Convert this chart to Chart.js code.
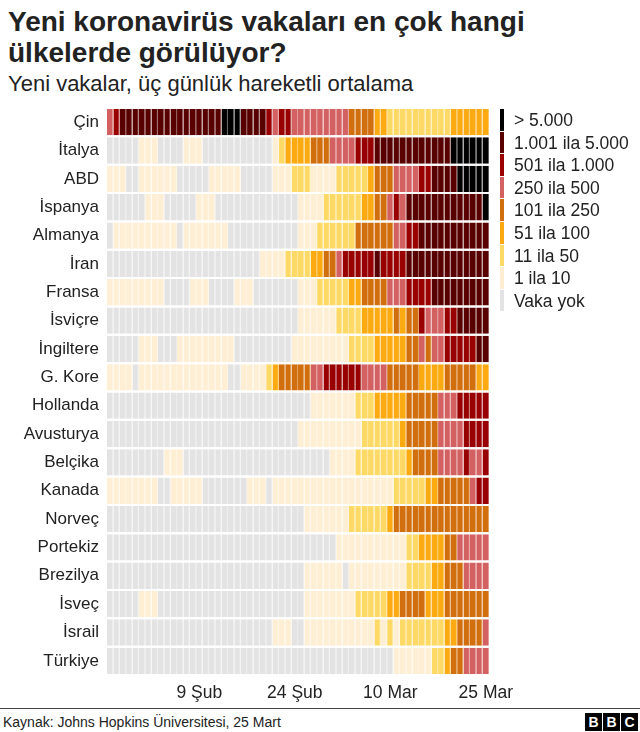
<!DOCTYPE html>
<html lang="tr">
<head>
<meta charset="utf-8">
<script src="https://cdn.jsdelivr.net/npm/chart.js@4.4.1/dist/chart.umd.min.js"></script>
<style>
  html, body { margin: 0; padding: 0; background: #fff; }
  body { width: 640px; height: 732px; position: relative; overflow: hidden;
         font-family: "Liberation Sans", Arial, Helvetica, sans-serif; color: #222; }
  h1 { position: absolute; left: 8px; top: 6px; margin: 0; font-size: 28px; line-height: 31px; font-weight: bold; }
  .sub { position: absolute; left: 8px; top: 71px; font-size: 22px; line-height: 26px; }
  #wrap { position: absolute; left: 0; top: 100px; width: 640px; height: 605px; }
  #legend { position: absolute; left: 500px; top: 109px; }
  #legend .item { position: relative; height: 22.6px; }
  #legend .bar { position: absolute; left: 0; top: 0; width: 4px; height: 21.6px; }
  #legend .txt { position: absolute; left: 14px; top: 0; font-size: 17.5px; line-height: 22px; white-space: nowrap; }
  .rule { position: absolute; left: 0; top: 708px; width: 640px; height: 1px; background: #444; }
  .src { position: absolute; left: 3px; top: 714px; font-size: 14px; line-height: 17px; }
  .bbc { position: absolute; left: 584px; top: 713px; }
  .bbc span { float: left; width: 17px; height: 18px; margin-left: 1px; background: #000; color: #fff;
              font-weight: bold; font-size: 14px; line-height: 18px; text-align: center; }
</style>
</head>
<body>
<h1>Yeni koronavirüs vakaları en çok hangi<br>ülkelerde görülüyor?</h1>
<div class="sub">Yeni vakalar, üç günlük hareketli ortalama</div>
<div id="wrap"><canvas id="heat" width="640" height="605"></canvas></div>
<div id="legend"></div>
<div class="rule"></div>
<div class="src">Kaynak: Johns Hopkins Üniversitesi, 25 Mart</div>
<div class="bbc"><span>B</span><span>B</span><span>C</span></div>

<script>
// rows top to bottom
const countries = ["Çin", "İtalya", "ABD", "İspanya", "Almanya", "İran", "Fransa", "İsviçre", "İngiltere", "G. Kore",
    "Hollanda", "Avusturya", "Belçika", "Kanada", "Norveç", "Portekiz", "Brezilya", "İsveç", "İsrail", "Türkiye"];

// one digit per day, 26 Ocak .. 25 Mart (60 days); digit = colour band 0..8 (spaces only for reading)
const levels = [
    "5 6 7777777777 777777 888 7777 6 5 66 555555555 4444 33 2222222222 333333",
    "00000 111 0000 111 0000000000 0 1 2 3333 444 5555 666 7777777777 77 888888",
    "111 00 111111 00000 11111 00000 111 222 1111 22222 3 444 5555 66 7777 88888",
    "000000 111 00000 111 0000000000 000 1111 222222 33 44 5 6 5 7777777777 77 8",
    "0 1111111111 0 1111111 0000000000 0 111 222222 444444 55 66 7777777777 7",
    "0000000000 0000000000 0000 1111 2222 33 44 5 66666 7 6666 7777777777 777",
    "111111111 0000 111 0000 111 0000000 111 22222 33 4444 555 6666 777777777",
    "0000000000 0000000000 0000000000 111111 2222 33333 4 3 44 6 555 66 77777",
    "00000 111 000 111111111 000000000 111111111 2222 33333 44 5 4 55 66666 77",
    "1111 0 1111111111 1111 00 1111 2 3 44444 55 666666 5555 44444 3333 44444 33",
    "0000000000 0000000000 0000000000 00 1111111 222 33333 44444 555 66666",
    "0000000000 0000000000 0000000000 1111111111 222222 3 44444 5555 6666",
    "000000000 111 0000000000 0000000000 000 1111 22222222 3 4444 5555 6 55 6",
    "11111111 00 11111 0000000 111 0 1111111111 111111111 22222 33 44444 5 66",
    "0000000000 0000000000 0000000000 0 1111111 222222 3 4444444444 44444",
    "0000000000 0000000000 0000000000 000000 1111111111 1 22 3333 44 55555",
    "0000000000 0000000000 0000000000 0 111111 0 111111111 2222 33 444 5555",
    "00000 111 0000000000 0000000000 000 11111111 22222 33 4444 333 4444444",
    "0000000000 0000000000 000000 111 00 11111111111 2 1 2 1 2222222 33 4444 5",
    "0000000000 0000000000 0000000000 0000000000 00000 111111 22 3 44 5555"
];

const bandLabels = ["Vaka yok", "1 ila 10", "11 ila 50", "51 ila 100", "101 ila 250",
    "250 ila 500", "501 ila 1.000", "1.001 ila 5.000", "> 5.000"];
const bandColors = ["#e3e3e3", "#feeed3", "#ffd966", "#fcaa12", "#d16f0e",
    "#d46162", "#990000", "#590000", "#000000"];

const tickDays = [14, 29, 44, 59];
const tickLabels = ["9 Şub", "24 Şub", "10 Mar", "25 Mar"];

const dayCount = 60;

const grid = levels.map(s => s.replace(/ /g, "").split("").map(Number));
grid.forEach((row, i) => {
    if (row.length !== dayCount) throw new Error(countries[i] + " has " + row.length + " days");
});

// lighter version of a colour for the thin lines between days
function tint(hex, t) {
    const n = parseInt(hex.slice(1), 16);
    const r = (n >> 16) & 255, g = (n >> 8) & 255, b = n & 255;
    const mix = c => Math.round(c + (255 - c) * t);
    return "rgb(" + mix(r) + "," + mix(g) + "," + mix(b) + ")";
}

// one stacked dataset per day, each country gets a slice of width 1
const datasets = [];
for (let d = 0; d < dayCount; d++) {
    datasets.push({
        label: "gün " + d,
        data: countries.map(() => 1),
        backgroundColor: grid.map(row => bandColors[row[d]]),
        borderColor: grid.map(row => tint(bandColors[row[d]], 0.35)),
        borderWidth: { top: 0, bottom: 0, left: 0, right: 1 },
        borderSkipped: false,
        barPercentage: 0.93,
        categoryPercentage: 1
    });
}

Chart.defaults.font.family = '"Liberation Sans", Arial, Helvetica, sans-serif';
Chart.defaults.color = "#222";

const ctx = document.getElementById("heat").getContext("2d");
const chart = new Chart(ctx, {
    type: "bar",
    data: { labels: countries, datasets },
    options: {
        indexAxis: "y",
        responsive: false,
        animation: false,
        layout: { padding: { top: 8, right: 151, bottom: 0, left: 0 } },
        plugins: {
            legend: { display: false },
            tooltip: { enabled: false }
        },
        scales: {
            x: {
                type: "linear",
                stacked: true,
                min: 0,
                max: dayCount,
                grid: { display: false },
                border: { display: false },
                afterBuildTicks: axis => {
                    axis.ticks = tickDays.map(d => ({ value: d + 0.5 }));
                },
                afterFit: scale => {
                    scale.height = 30;
                    scale.paddingLeft = 0;
                    scale.paddingRight = 0;
                },
                ticks: {
                    autoSkip: false,
                    maxRotation: 0,
                    padding: 0,
                    font: { size: 17.5 },
                    callback: (value, index) => tickLabels[index]
                }
            },
            y: {
                stacked: true,
                grid: { display: false },
                border: { display: false },
                afterFit: scale => {
                    scale.width = 107;
                    scale.paddingTop = 0;
                    scale.paddingBottom = 0;
                },
                ticks: {
                    padding: 0,
                    font: { size: 17 }
                }
            }
        }
    }
});

// legend, highest band first
const legendBox = document.getElementById("legend");
for (let i = bandLabels.length - 1; i >= 0; i--) {
    const item = document.createElement("div");
    item.className = "item";
    item.innerHTML = '<div class="bar" style="background:' + bandColors[i] + '"></div><div class="txt">' + bandLabels[i] + '</div>';
    legendBox.appendChild(item);
}
</script>
</body>
</html>
